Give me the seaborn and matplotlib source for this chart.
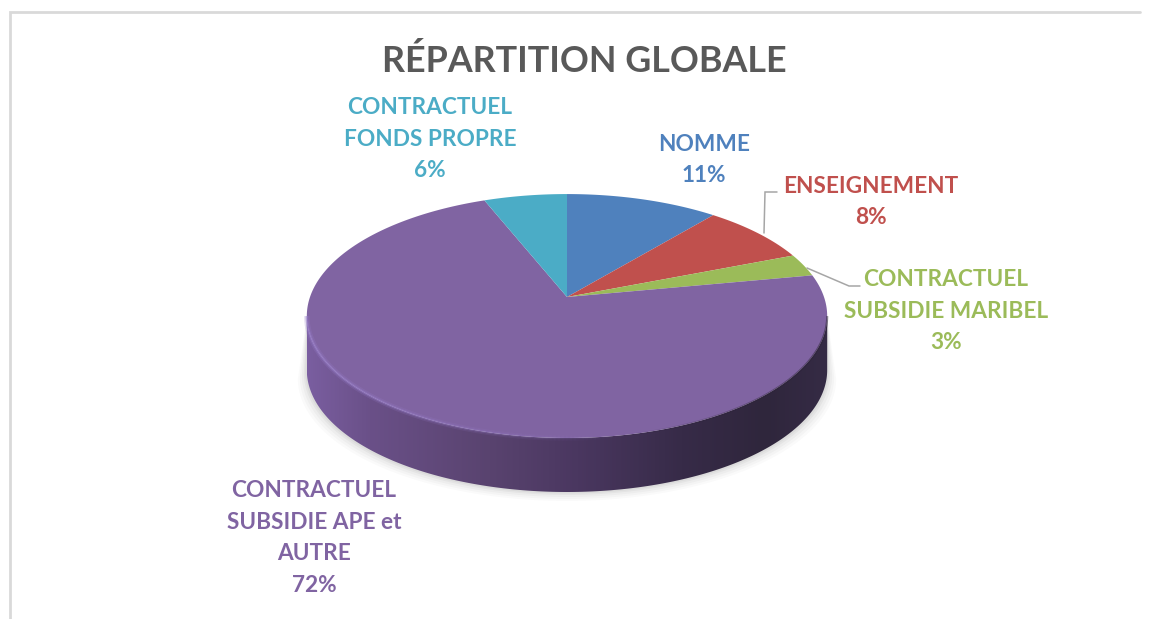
import numpy as np
import matplotlib
matplotlib.use("Agg")
import matplotlib.pyplot as plt
from matplotlib.collections import LineCollection
from matplotlib.colors import LinearSegmentedColormap
from matplotlib.patches import Polygon
from matplotlib.path import Path
from matplotlib.transforms import IdentityTransform
import seaborn as sns

sns.set_theme(style="white")
plt.rcParams["font.family"] = ["Lato", "DejaVu Sans"]

title = "RÉPARTITION GLOBALE"
categories = ["NOMME", "ENSEIGNEMENT", "CONTRACTUEL\nSUBSIDIE MARIBEL",
              "CONTRACTUEL\nSUBSIDIE APE et\nAUTRE", "CONTRACTUEL\nFONDS PROPRE"]
values = [11, 8, 3, 72, 6]
colors = ["#4f81bd", "#c0504d", "#9bbb59", "#8064a2", "#4bacc6"]
text_colors = ["#4f81bd", "#c0504d", "#9bbb59", "#8064a2", "#4bacc6"]
label_pos_px = [(704, 160), (871, 202), (946, 311), (314, 538), (430, 139)]

W, H = 1151, 619
AX, AY = 567, 297          # apex of the pie in pixels
A, C, K = 257.0, 119.0, 0.156  # perspective of the tilted disc
DEPTH = 54


def project(xy):
    den = 1 + K * xy[:, 1]
    return np.column_stack([A * xy[:, 0] / den, C * xy[:, 1] / den])


def px(x, y):
    return x - AX, AY - y


fig = plt.figure(figsize=(W / 100, H / 100), dpi=100, facecolor="white")
ax = fig.add_axes([0, 0, 1, 1])
wedges, _ = ax.pie(values, colors=colors, startangle=90, counterclock=False, frame=True)
ax.set_aspect("auto")
ax.axis("off")

# Rim of the tilted disc
t = np.linspace(0, 2 * np.pi, 1441)
rim = project(np.column_stack([np.cos(t), np.sin(t)]))
cy = (rim[:, 1].max() + rim[:, 1].min()) / 2
lower = rim[rim[:, 1] <= cy]
lower = lower[np.argsort(lower[:, 0])]
side = np.vstack([lower, (lower - [0, DEPTH])[::-1]])

# Soft shadow
for grow, alpha in [(9, .018), (7, .022), (5, .028), (3, .035), (1.5, .04)]:
    sh = lower - [0, DEPTH + grow]
    sh = sh * [1 + grow / 260, 1]
    ax.add_patch(Polygon(np.vstack([lower, sh[::-1]]), closed=True, fc="black",
                         ec="none", alpha=alpha, zorder=0.5))

# Side wall with a horizontal gradient
cmap = LinearSegmentedColormap.from_list(
    "wall", [(0, "#7a5ea0"), (.12, "#6a5088"), (.35, "#59436f"), (.52, "#4a3760"),
             (.72, "#372b48"), (.88, "#2f263c"), (1, "#352b45")])
x0, x1 = side[:, 0].min(), side[:, 0].max()
im = ax.imshow(np.linspace(0, 1, 512)[None, :], cmap=cmap, aspect="auto", zorder=1,
               extent=[x0, x1, side[:, 1].min(), side[:, 1].max()])
im.set_clip_path(Polygon(side, closed=True, transform=ax.transData))
ax.set_xlim(-AX, W - AX)
ax.set_ylim(AY - H, AY)

# Top face: the pie wedges seen through the perspective
for w in wedges:
    th = np.radians(np.linspace(w.theta1, w.theta2, 300))
    arc = np.column_stack([np.cos(th), np.sin(th)])
    verts = project(np.vstack([[0, 0], arc, [0, 0]]))
    w._patch_transform = IdentityTransform()
    w._path = Path(verts, closed=True)
    w.set_transform(ax.transData)
    w.set_zorder(3)
    w.set_edgecolor("none")

# Bevel highlight along the front edge
segs = np.stack([lower[:-1], lower[1:]], axis=1)
fr = (lower[:-1, 0] - x0) / (x1 - x0)
for width, strength in [(4.0, .25), (1.8, .6)]:
    cols = np.zeros((len(fr), 4))
    cols[:] = matplotlib.colors.to_rgba("#9a80cc")
    cols[:, 3] = np.clip(strength * (1 - fr / .62), 0, 1)
    ax.add_collection(LineCollection(segs, colors=cols, linewidths=width, zorder=3.5))
dark = np.zeros((len(fr), 4))
dark[:] = matplotlib.colors.to_rgba("#2e2539")
dark[:, 3] = np.clip((fr - .62) * 1.6, 0, .6)
ax.add_collection(LineCollection(segs, colors=dark, linewidths=1.5, zorder=3.5))

# Leader lines
for xs, ys in [((764, 765, 777), (233, 192, 192)), ((807, 849, 860), (268, 286, 286))]:
    pts = [px(a, b) for a, b in zip(xs, ys)]
    ax.plot(*zip(*pts), color="#a6a6a6", lw=1.1, zorder=4, solid_joinstyle="miter")

# Labels
for cat, val, col, (lx, ly) in zip(categories, values, text_colors, label_pos_px):
    ax.text(*px(lx, ly), f"{cat}\n{val}%", color=col, fontsize=16.3, fontweight="bold",
            ha="center", va="center", linespacing=1.62, zorder=5)
ax.text(*px(584, 61), title, color="#595959", fontsize=25.8, fontweight="bold",
        ha="center", va="center", zorder=5)

# Chart-area border (top and left edges visible)
ax.plot(*zip(px(9.5, H), px(9.5, 12), px(1140, 12)), color="#d9d9d9", lw=2, zorder=0.2,
        solid_joinstyle="miter", clip_on=False)

fig.savefig("out.png", dpi=100, facecolor="white")
